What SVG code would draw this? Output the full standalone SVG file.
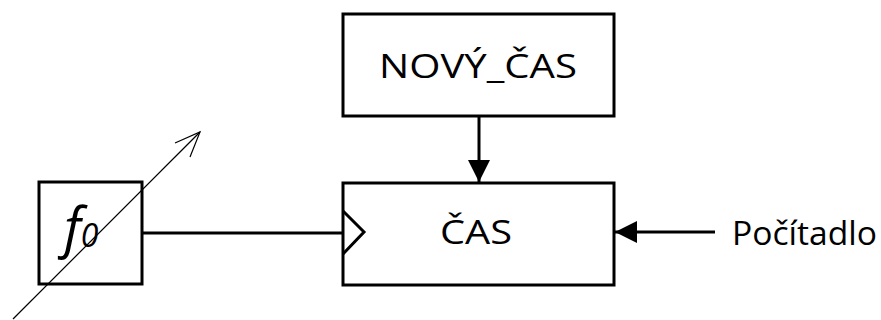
<svg xmlns="http://www.w3.org/2000/svg" width="881" height="320" viewBox="0 0 881 320">
  <style>
    .box { fill: #ffffff; stroke: #000000; stroke-width: 3; }
    .wire { fill: none; stroke: #000000; stroke-width: 3; }
    .thin { fill: none; stroke: #000000; stroke-width: 1.2; }
    .lbl { font-family: "Open Sans", "Noto Sans", sans-serif; font-size: 33px; fill: #000000; }
    .sym { font-family: "Open Sans", "Noto Sans", sans-serif; font-style: italic; fill: #000000; }
  </style>
  <defs>
    <marker id="solid" markerWidth="22" markerHeight="22" refX="22" refY="11" orient="auto" markerUnits="userSpaceOnUse">
      <path d="M0,0 L22,11 L0,22 Z" fill="#000000"/>
    </marker>
  </defs>

  <!-- blocks -->
  <g id="novy-cas">
    <rect class="box" x="343" y="14" width="271" height="102"/>
    <text class="lbl" x="379" y="78" textLength="198" lengthAdjust="spacingAndGlyphs">NOVÝ_ČAS</text>
  </g>

  <g id="cas">
    <rect class="box" x="343" y="183" width="271" height="102"/>
    <!-- clock input -->
    <polyline class="wire" points="343,211 364,232 343,254" stroke-width="2.5"/>
    <text class="lbl" x="440" y="244" textLength="72" lengthAdjust="spacingAndGlyphs">ČAS</text>
  </g>

  <g id="f0">
    <rect class="box" x="39" y="182" width="103" height="102"/>
    <text class="sym" x="64" y="247"><tspan font-size="54">f</tspan><tspan font-size="32" dx="0">0</tspan></text>
  </g>

  <g id="pocitadlo">
    <text class="lbl" x="732" y="245" textLength="145" lengthAdjust="spacingAndGlyphs">Počítadlo</text>
  </g>

  <!-- connectors -->
  <g id="connectors">
    <line class="wire" x1="479" y1="116" x2="479" y2="182" marker-end="url(#solid)"/>
    <line class="wire" x1="142" y1="233" x2="343" y2="233"/>
    <line class="wire" x1="715" y1="232" x2="615" y2="232" marker-end="url(#solid)"/>
    <!-- tuning arrow across the oscillator -->
    <line class="thin" x1="13" y1="319" x2="200" y2="132"/>
    <polyline class="thin" points="175,143 200,132 190,157"/>
  </g>
</svg>
